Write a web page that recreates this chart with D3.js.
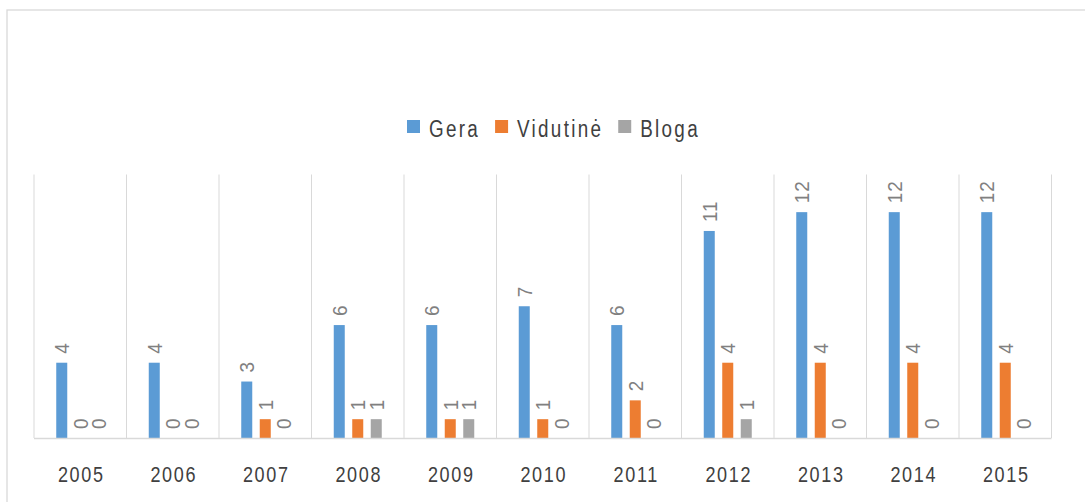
<!DOCTYPE html>
<html>
<head>
<meta charset="utf-8">
<script src="https://cdn.jsdelivr.net/npm/d3@7/dist/d3.min.js"></script>
<style>
html,body{margin:0;padding:0;background:#fff;}
#chart{width:1085px;height:502px;}
</style>
</head>
<body>
<div id="chart"></div>
<script>
var years=['2005','2006','2007','2008','2009','2010','2011','2012','2013','2014','2015'];
var series=['Gera','Vidutinė','Bloga'];
var gera=[4,4,3,6,6,7,6,11,12,12,12];
var vidutine=[0,0,1,1,1,1,2,4,4,4,4];
var bloga=[0,0,0,1,1,0,0,1,0,0,0];
var colors=['#5b9bd5','#ed7d31','#a5a5a5'];

var W=1085,H=502,
	plot={left:34,right:1051.5,top:174.5,bottom:438},
	narrow=0.82;	//horizontal squeeze, narrow face look

var rows=years.map(function(y,i){
	return {year:y,values:[gera[i],vidutine[i],bloga[i]]};
});

var svg=d3.select('#chart').append('svg').attr('width',W).attr('height',H)
	.style('font-family',"'Liberation Sans',Arial,sans-serif");

// chart frame
svg.append('rect').attr('x',7).attr('y',10).attr('width',W+20).attr('height',H+20)
	.attr('fill','none').attr('stroke','#d9d9d9').attr('stroke-width',1.3);

var x0=d3.scaleBand().domain(years).range([plot.left,plot.right]).padding(0);
var x1=d3.scaleBand().domain(d3.range(series.length))
	.range([x0.bandwidth()/2-24,x0.bandwidth()/2+24]).paddingInner(0.405).paddingOuter(0);
var y=d3.scaleLinear().domain([0,14]).range([plot.bottom,plot.top]);

// vertical grid lines at category edges
var edges=years.map(function(d){return x0(d)}).concat([plot.right]);
svg.append('g').selectAll('line').data(edges).enter().append('line')
	.attr('x1',function(d){return d}).attr('x2',function(d){return d})
	.attr('y1',plot.top).attr('y2',plot.bottom)
	.attr('stroke','#d9d9d9').attr('stroke-width',1);

// bars
var gYear=svg.append('g').selectAll('g').data(rows).enter().append('g')
	.attr('transform',function(d){return 'translate('+x0(d.year)+',0)'});

gYear.selectAll('rect').data(function(d){return d.values}).enter().append('rect')
	.attr('x',function(d,i){return x1(i)})
	.attr('width',x1.bandwidth())
	.attr('y',function(d){return y(d)})
	.attr('height',function(d){return y(0)-y(d)})
	.attr('fill',function(d,i){return colors[i]});

// rotated value labels
gYear.selectAll('text').data(function(d){return d.values}).enter().append('text')
	.attr('transform',function(d,i){
		return 'translate('+(x1(i)+x1.bandwidth()/2)+','+(y(d)-9)+') rotate(-90) scale(0.9,1)';
	})
	.attr('dy','0.36em')
	.attr('text-anchor','start')
	.attr('font-size',21)
	.attr('letter-spacing',1)
	.attr('fill','#808080')
	.text(function(d){return d});

// baseline
svg.append('line').attr('x1',plot.left).attr('x2',plot.right)
	.attr('y1',plot.bottom+0.5).attr('y2',plot.bottom+0.5)
	.attr('stroke','#d9d9d9').attr('stroke-width',1.3);

// x axis labels
svg.append('g').selectAll('text').data(years).enter().append('text')
	.attr('transform',function(d){
		return 'translate('+(x0(d)+x0.bandwidth()/2+1)+',481.5) scale('+narrow+',1)';
	})
	.attr('text-anchor','middle')
	.attr('font-size',22)
	.attr('letter-spacing',2)
	.attr('fill','#404040')
	.text(function(d){return d});

// legend
var gLegend=svg.append('g'),cx=407;
series.forEach(function(s,i){
	gLegend.append('rect').attr('x',cx).attr('y',120).attr('width',13).attr('height',13)
		.attr('fill',colors[i]);
	var t=gLegend.append('text')
		.attr('transform','translate('+(cx+22)+',137) scale('+narrow+',1)')
		.attr('font-size',23).attr('letter-spacing',2.8).attr('fill','#404040').text(s);
	cx+=22+t.node().getComputedTextLength()*narrow+15;
});
</script>
</body>
</html>
